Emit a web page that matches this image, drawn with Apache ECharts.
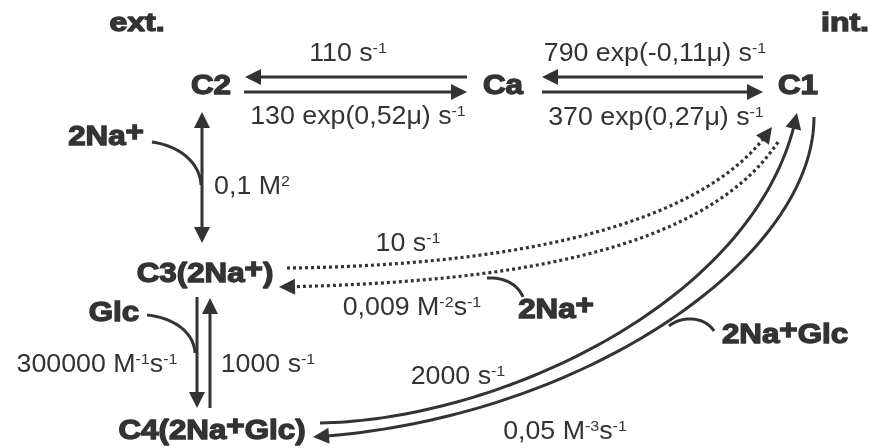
<!DOCTYPE html>
<html><head><meta charset="utf-8">
<script src="https://cdn.jsdelivr.net/npm/echarts@6/dist/echarts.min.js"></script>
<style>html,body{margin:0;padding:0;background:#fff}#c{width:873px;height:448px}</style>
</head><body><div id="c"></div>
<script>
// ---------- content ----------
const sideLabels = ['ext.', 'int.'];
const stateLabels = ['C2', 'Ca', 'C1', 'C3(2Na{p|+})', 'C4(2Na{p|+}Glc)'];
const ligandLabels = ['2Na{p|+}', 'Glc', '2Na{p|+}', '2Na{p|+}Glc'];
const rateLabels = [
  '110 s{s|-1}', '130 exp(0,52μ) s{s|-1}', '790 exp(-0,11μ) s{s|-1}', '370 exp(0,27μ) s{s|-1}',
  '0,1 M{s|2}', '10 s{s|-1}', '0,009 M{s|-2}s{s|-1}', '300000 M{s|-1}s{s|-1}',
  '1000 s{s|-1}', '2000 s{s|-1}', '0,05 M{s|-3}s{s|-1}'
];

// ---------- layout (diagram units) ----------
const W = 873, H = 448;
const sidePos = [[137, 24.5], [845, 24.5]];
const statePos = [[211, 86.5], [503, 87], [798, 87], [205, 275], [212, 432]];
const ligandPos = [[106, 138], [114, 314], [556, 311], [785, 336]];
const ratePos = [[348, 54], [358, 117], [655, 54], [656, 118], [252, 187], [408, 244],
  [412, 308], [97, 365], [268, 365], [458, 377], [565, 432]];

// transitions: straight (line) or cubic Bezier (cubic) paths
const arrows = [
  { type: 'line', pts: [[467, 77], [245, 77]], head: 'end' },
  { type: 'line', pts: [[244, 92], [467, 92]], head: 'end' },
  { type: 'line', pts: [[763, 77], [542, 77]], head: 'end' },
  { type: 'line', pts: [[542, 92], [763, 92]], head: 'end' },
  { type: 'line', pts: [[202, 112], [202, 243]], head: 'both' },
  { type: 'cubic', pts: [[152, 142], [180, 146], [200, 163], [201, 185]], head: 'none' },
  { type: 'line', pts: [[197, 297], [197, 408]], head: 'end' },
  { type: 'line', pts: [[210, 408], [210, 298]], head: 'end' },
  { type: 'cubic', pts: [[147, 315], [175, 318], [194, 333], [195, 353]], head: 'none' },
  { type: 'cubic', pts: [[287, 268], [480, 266], [700, 236], [772, 127]], head: 'end', dotted: true },
  { type: 'cubic', pts: [[778, 142], [700, 260], [480, 283], [279, 287]], head: 'end', dotted: true },
  { type: 'cubic', pts: [[487, 278], [505, 277], [518, 285], [523, 297]], head: 'none' },
  { type: 'cubic', pts: [[320, 423], [500, 420], [760, 300], [797, 113]], head: 'end' },
  { type: 'cubic', pts: [[814, 117], [814, 260], [580, 420], [313, 437]], head: 'end' },
  { type: 'cubic', pts: [[669, 326], [683, 315], [705, 317], [714, 331]], head: 'none' }
];

const INK = '#333333';
const FAM = '"Liberation Sans", Arial, sans-serif';

const styles = {
  side: { font: 'bold 25px ' + FAM, scaleX: 1.28, stroke: 1.3 },
  state: { font: 'bold 27px ' + FAM, scaleX: 1.16, stroke: 1.3 },
  ligand: { font: 'bold 27px ' + FAM, scaleX: 1.16, stroke: 1.3 },
  rate: { font: '25px ' + FAM, scaleX: 1.07, stroke: 0 }
};
const rich = {
  p: { font: 'bold 27px ' + FAM, padding: [0, 0, 9, 0], fill: INK, stroke: INK, lineWidth: 1.3 },
  s: { font: '15px ' + FAM, padding: [0, 0, 10, 0], fill: INK }
};

const labels = [];
sideLabels.forEach((t, i) => labels.push({ text: t, pos: sidePos[i], kind: 'side' }));
stateLabels.forEach((t, i) => labels.push({ text: t, pos: statePos[i], kind: 'state' }));
ligandLabels.forEach((t, i) => labels.push({ text: t, pos: ligandPos[i], kind: 'ligand' }));
rateLabels.forEach((t, i) => labels.push({ text: t, pos: ratePos[i], kind: 'rate' }));

// ---------- helpers ----------
function sampleCubic(P, n) {
  const out = [];
  for (let i = 0; i <= n; i++) {
    const t = i / n, u = 1 - t;
    const a = u * u * u, b = 3 * u * u * t, c = 3 * u * t * t, d = t * t * t;
    out.push([a * P[0][0] + b * P[1][0] + c * P[2][0] + d * P[3][0],
              a * P[0][1] + b * P[1][1] + c * P[2][1] + d * P[3][1]]);
  }
  return out;
}
function cutEnd(pts, d) {
  let acc = 0;
  for (let i = pts.length - 1; i > 0; i--) {
    const x1 = pts[i - 1][0], y1 = pts[i - 1][1], x2 = pts[i][0], y2 = pts[i][1];
    const seg = Math.hypot(x2 - x1, y2 - y1);
    if (acc + seg >= d) {
      const t = (d - acc) / seg;
      return pts.slice(0, i).concat([[x2 + (x1 - x2) * t, y2 + (y1 - y2) * t]]);
    }
    acc += seg;
  }
  return [pts[0]];
}
const HL = 16, HW = 8;
function head(pts) {
  const tip = pts[pts.length - 1];
  const back = cutEnd(pts, HL);
  const b = back[back.length - 1];
  let dx = tip[0] - b[0], dy = tip[1] - b[1];
  const len = Math.hypot(dx, dy) || 1; dx /= len; dy /= len;
  const bx = tip[0] - dx * HL, by = tip[1] - dy * HL;
  return {
    type: 'polygon',
    shape: { points: [tip, [bx - dy * HW, by + dx * HW], [bx + dy * HW, by - dx * HW]] },
    style: { fill: INK, stroke: null }
  };
}

function renderArrow(params, api) {
  const a = arrows[params.dataIndex];
  const px = a.pts.map(p => api.coord(p));
  let pts = a.type === 'cubic' ? sampleCubic(px, 80) : px;
  const heads = [];
  if (a.head === 'end' || a.head === 'both') {
    heads.push(head(pts));
    pts = cutEnd(pts, HL * 0.6);
  }
  if (a.head === 'both') {
    const rev = pts.slice().reverse();
    heads.push(head(rev));
    pts = cutEnd(rev, HL * 0.6).reverse();
  }
  const line = {
    type: 'polyline',
    shape: { points: pts },
    style: { stroke: INK, fill: null, lineWidth: a.dotted ? 3.2 : 3, lineCap: 'butt', lineJoin: 'round',
             lineDash: a.dotted ? [3, 3] : null }
  };
  return { type: 'group', children: [line].concat(heads) };
}

function renderLabel(params, api) {
  const L = labels[params.dataIndex];
  const st = styles[L.kind];
  const c = api.coord([api.value(0), api.value(1)]);
  return {
    type: 'text', x: c[0], y: c[1], scaleX: st.scaleX, scaleY: 1,
    style: {
      text: L.text, font: st.font, fill: INK,
      stroke: st.stroke ? INK : null, lineWidth: st.stroke,
      align: 'center', verticalAlign: 'middle', rich: rich
    }
  };
}

const chart = echarts.init(document.getElementById('c'), null, { renderer: 'canvas' });
chart.setOption({
  animation: false,
  backgroundColor: '#ffffff',
  grid: { left: 0, right: 0, top: 0, bottom: 0 },
  xAxis: { type: 'value', min: 0, max: W, show: false },
  yAxis: { type: 'value', min: 0, max: H, inverse: true, show: false },
  series: [
    { type: 'custom', coordinateSystem: 'cartesian2d', clip: false, silent: true,
      data: arrows.map(a => a.pts[0]), renderItem: renderArrow },
    { type: 'custom', coordinateSystem: 'cartesian2d', clip: false, silent: true,
      data: labels.map(l => l.pos), renderItem: renderLabel }
  ]
});
</script>
</body></html>
